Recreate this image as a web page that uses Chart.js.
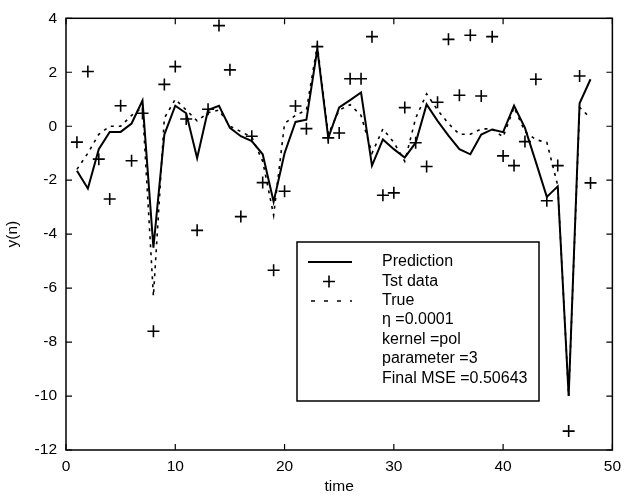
<!DOCTYPE html>
<html>
<head>
<meta charset="utf-8">
<script src="https://cdn.jsdelivr.net/npm/chart.js@4/dist/chart.umd.min.js"></script>
<style>
  html, body { margin: 0; padding: 0; background: #fff; }
  #wrap { width: 628px; height: 501px; position: relative; }
</style>
</head>
<body>
<div id="wrap"><canvas id="c" width="628" height="501"></canvas></div>
<script>
const time = [1,2,3,4,5,6,7,8,9,10,11,12,13,14,15,16,17,18,19,20,21,22,23,24,25,26,27,28,29,30,31,32,33,34,35,36,37,38,39,40,41,42,43,44,45,46,47,48];
const prediction = [-1.65,-2.31,-0.85,-0.21,-0.21,0.1,0.95,-4.5,-0.31,0.76,0.48,-1.18,0.6,0.76,-0.06,-0.37,-0.55,-1.04,-2.8,-1.0,0.16,0.24,2.86,-0.43,0.7,0.97,1.25,-1.46,-0.49,-0.85,-1.16,-0.61,0.81,0.2,-0.35,-0.85,-1.04,-0.31,-0.12,-0.22,0.76,-0.06,-1.33,-2.62,-2.23,-10.0,0.85,1.74];
const testData = [-0.59,2.03,-1.22,-2.7,0.76,-1.28,0.48,-7.6,1.55,2.21,0.27,-3.86,0.63,3.73,2.09,-3.35,-0.37,-2.09,-5.34,-2.41,0.75,-0.09,2.95,-0.43,-0.25,1.76,1.76,3.32,-2.56,-2.47,0.69,-0.61,-1.49,0.89,3.22,1.15,3.37,1.12,3.32,-1.1,-1.46,-0.57,1.74,-2.76,-1.46,-11.3,1.86,-2.1];
const trueVals = [-1.6,-1.0,-0.3,0.0,0.0,0.4,0.7,-6.3,0.3,1.0,0.6,0.2,0.5,0.6,0.0,-0.2,-0.4,-1.3,-3.3,0.1,0.4,0.6,3.0,-0.3,0.6,0.8,0.4,-1.0,-0.1,-0.6,-1.3,0.3,1.2,0.6,0.1,-0.3,-0.3,-0.1,-0.1,-0.4,0.7,-0.2,-0.5,-0.6,-2.2,-10.0,0.7,0.3];
const xTicks = [0,10,20,30,40,50];
const yTicks = [-12,-10,-8,-6,-4,-2,0,2,4];
const legendLabels = ["Prediction","Tst data","True"];
const legendNotes = ["\u03B7 =0.0001","kernel =pol","parameter =3","Final MSE =0.50643"];

const FONT = "'Liberation Sans', Arial, Helvetica, sans-serif";

const pts = (ys) => time.map((t, i) => ({x: t, y: ys[i]}));

const boxTicks = {
  id: 'boxTicks',
  afterDraw(chart) {
    const {ctx, chartArea: a, scales: {x, y}} = chart;
    ctx.save();
    ctx.strokeStyle = '#000';
    ctx.lineWidth = 1.5;
    ctx.strokeRect(a.left, a.top, a.right - a.left, a.bottom - a.top);
    const L = 6;
    ctx.lineWidth = 1.2;
    ctx.beginPath();
    xTicks.forEach(v => {
      const px = x.getPixelForValue(v);
      ctx.moveTo(px, a.bottom); ctx.lineTo(px, a.bottom - L);
      ctx.moveTo(px, a.top); ctx.lineTo(px, a.top + L);
    });
    yTicks.forEach(v => {
      const py = y.getPixelForValue(v);
      ctx.moveTo(a.left, py); ctx.lineTo(a.left + L, py);
      ctx.moveTo(a.right, py); ctx.lineTo(a.right - L, py);
    });
    ctx.stroke();

    // legend box
    const bx = 297, by = 242, bw = 242, bh = 159;
    ctx.fillStyle = '#fff';
    ctx.fillRect(bx, by, bw, bh);
    ctx.lineWidth = 1.5;
    ctx.strokeRect(bx, by, bw, bh);
    const tx = 382;
    const rows = [262, 281.5, 301, 320, 339.5, 359, 379];
    ctx.fillStyle = '#000';
    ctx.font = "16px " + FONT;
    ctx.textBaseline = 'middle';
    ctx.textAlign = 'left';
    legendLabels.forEach((s, i) => ctx.fillText(s, tx, rows[i]));
    legendNotes.forEach((s, i) => ctx.fillText(s, tx, rows[i + 3]));
    // samples
    ctx.lineWidth = 2;
    ctx.beginPath(); ctx.moveTo(308, rows[0]); ctx.lineTo(352, rows[0]); ctx.stroke();
    ctx.lineWidth = 1.6;
    ctx.beginPath();
    ctx.moveTo(329 - 6, rows[1]); ctx.lineTo(329 + 6, rows[1]);
    ctx.moveTo(329, rows[1] - 6); ctx.lineTo(329, rows[1] + 6);
    ctx.stroke();
    ctx.lineWidth = 1.6;
    ctx.setLineDash([4, 9]);
    ctx.beginPath(); ctx.moveTo(311, rows[2]); ctx.lineTo(352, rows[2]); ctx.stroke();
    ctx.setLineDash([]);
    ctx.restore();
  }
};

new Chart(document.getElementById('c'), {
  type: 'scatter',
  data: {
    datasets: [
      { label: legendLabels[0], data: pts(prediction), showLine: true, borderColor: '#000', borderWidth: 2, pointRadius: 0, fill: false, order: 1 },
      { label: legendLabels[1], data: pts(testData), showLine: false, pointStyle: 'cross', pointRadius: 6, borderColor: '#000', borderWidth: 1.6, order: 0 },
      { label: legendLabels[2], data: pts(trueVals), showLine: true, borderColor: '#000', borderWidth: 1.6, borderDash: [3, 5], pointRadius: 0, fill: false, order: 2 }
    ]
  },
  options: {
    responsive: false,
    animation: false,
    layout: { padding: { top: 12, right: 12, left: 0, bottom: 0 } },
    plugins: { legend: { display: false }, tooltip: { enabled: false } },
    scales: {
      x: {
        type: 'linear', min: 0, max: 50,
        afterBuildTicks: (s) => { s.ticks = xTicks.map(v => ({value: v})); },
        afterFit: (s) => { s.height = 51; },
        grid: { display: false, drawTicks: false },
        border: { display: false },
        ticks: { color: '#000', font: { family: FONT, size: 15.5 }, padding: 7, maxRotation: 0 },
        title: { display: true, text: 'time', color: '#000', font: { family: FONT, size: 15.5 }, padding: { top: 0, bottom: 5 } }
      },
      y: {
        type: 'linear', min: -12, max: 4,
        afterBuildTicks: (s) => { s.ticks = yTicks.map(v => ({value: v})); },
        afterFit: (s) => { s.width = 66; },
        grid: { display: false, drawTicks: false },
        border: { display: false },
        ticks: { color: '#000', font: { family: FONT, size: 15.5 }, padding: 9 },
        title: { display: true, text: 'y(n)', color: '#000', font: { family: FONT, size: 15.5 }, padding: { top: 3, bottom: 0 } }
      }
    }
  },
  plugins: [boxTicks]
});
</script>
</body>
</html>
